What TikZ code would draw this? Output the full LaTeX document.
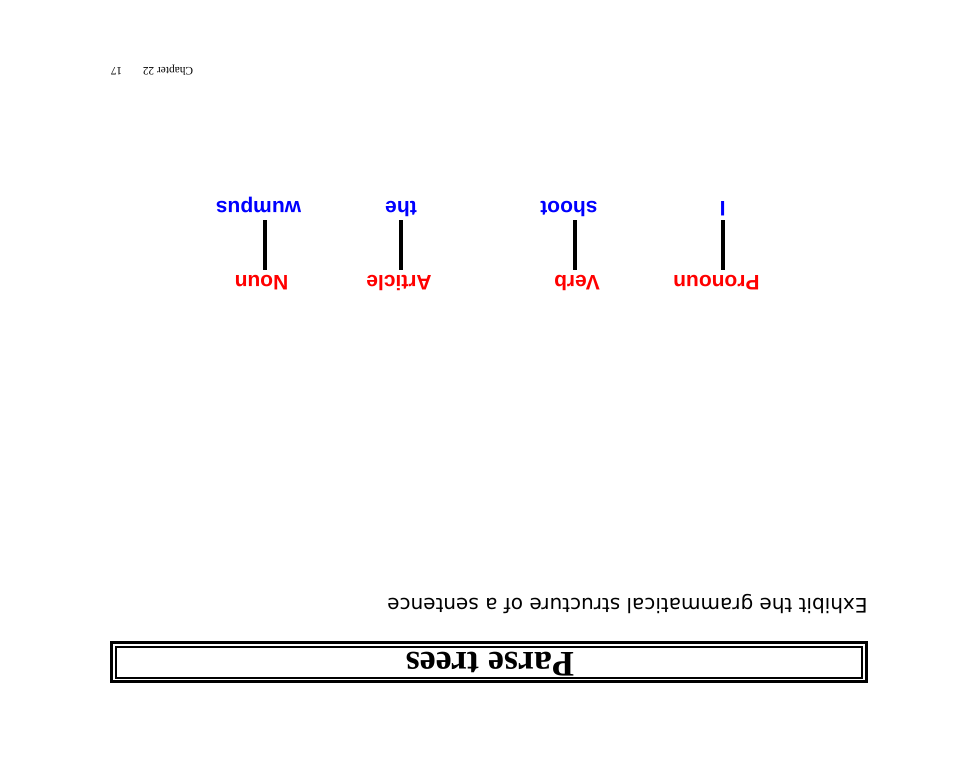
\documentclass[tikz,border=0pt]{standalone}
\usepackage{fontspec}
\setmainfont{Liberation Serif}
\newfontfamily\helv{Liberation Sans}
\newfontfamily\dvs{DejaVu Sans}
\begin{document}
\begin{tikzpicture}[x=0.5pt,y=-0.5pt,
  flip/.style={rotate=180,inner sep=0pt},
  cat/.style={flip,text=red,font=\helv\bfseries\fontsize{10.5}{12}\selectfont,anchor=base},
  wordnode/.style={flip,text=blue,font=\helv\bfseries\fontsize{10.5}{12}\selectfont,anchor=base},
  treeline/.style={line width=2pt}]
\useasboundingbox (0,0) rectangle (980,757);
% title frame
\draw[line width=1.5pt] (111.5,642.5) rectangle (866.5,681);
\draw[line width=1pt] (116,647.3) rectangle (862,677.5);
\node[flip,anchor=base,font=\bfseries\fontsize{18}{22}\selectfont] (title) at (490,652.5) {Parse trees};
% subtitle
\node[flip,anchor=base west,font=\dvs\fontsize{10}{12}\selectfont] (sub) at (868,598) {Exhibit the grammatical structure of a sentence};
% categories
\node[cat] (c1) at (716.5,275) {Pronoun};
\node[cat] (c2) at (577,275) {Verb};
\node[cat] (c3) at (399,275) {Article};
\node[cat] (c4) at (261.5,275) {Noun};
% words
\node[wordnode] (w1) at (722.7,201) {I};
\node[wordnode] (w2) at (569,201) {shoot};
\node[wordnode] (w3) at (401,201) {the};
\node[wordnode] (w4) at (258.5,201) {wumpus};
% connectors
\coordinate (t1) at (723,220); \coordinate (b1) at (723,270);
\coordinate (t2) at (575,220); \coordinate (b2) at (575,270);
\coordinate (t3) at (401,220); \coordinate (b3) at (401,270);
\coordinate (t4) at (265,220); \coordinate (b4) at (265,270);
\draw[treeline] (t1) -- (b1);
\draw[treeline] (t2) -- (b2);
\draw[treeline] (t3) -- (b3);
\draw[treeline] (t4) -- (b4);
% footer
\node[flip,anchor=base,font=\fontsize{5.7}{7}\selectfont] (chap) at (168,67) {Chapter 22};
\node[flip,anchor=base,font=\fontsize{5.7}{7}\selectfont] (pg) at (116.5,67) {17};
\end{tikzpicture}
\end{document}
